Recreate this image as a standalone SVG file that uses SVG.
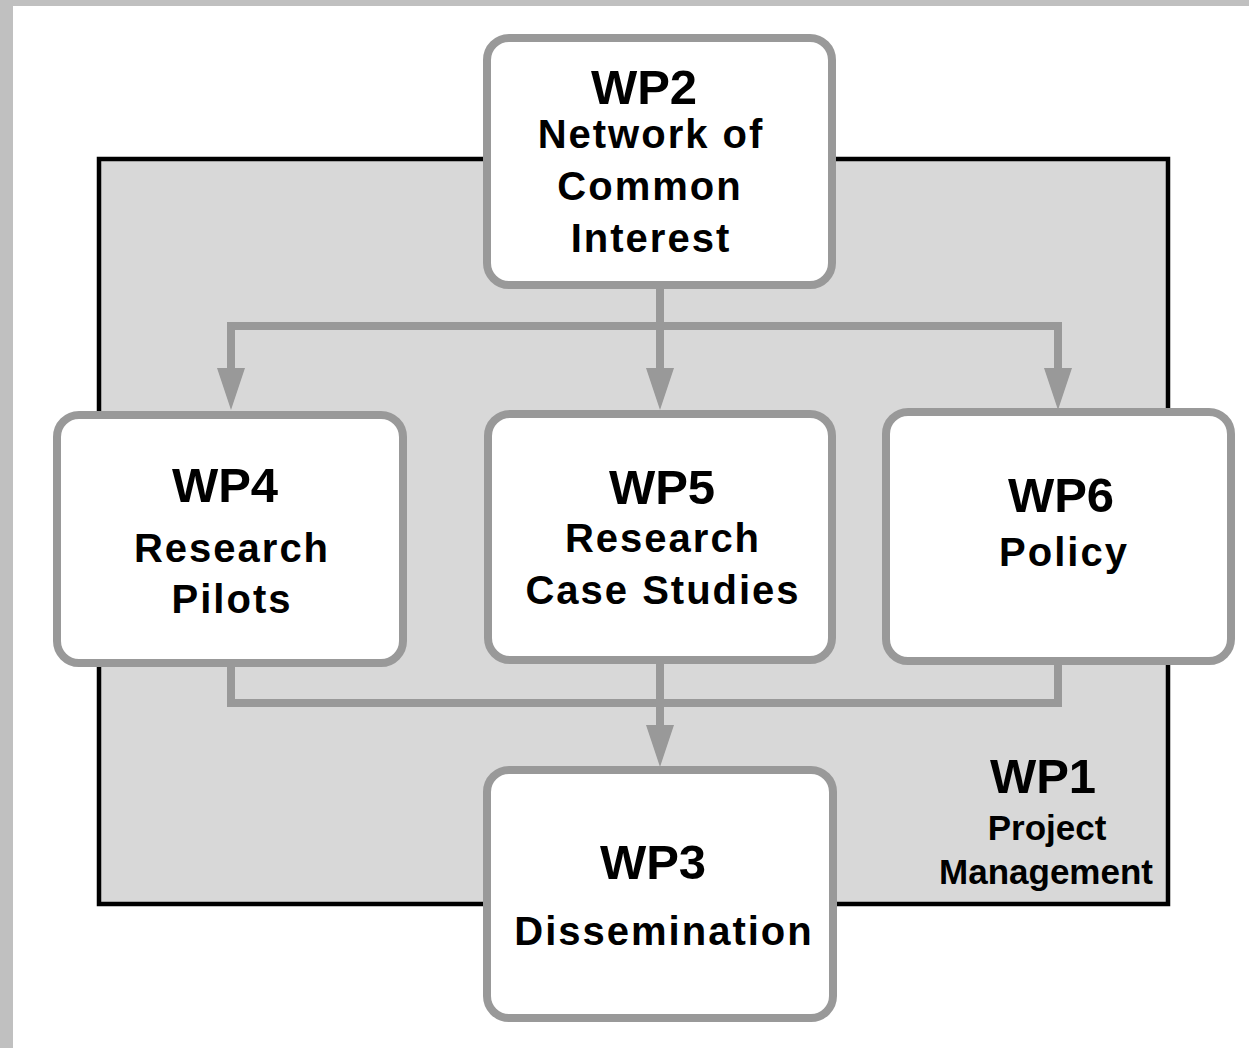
<svg xmlns="http://www.w3.org/2000/svg" width="1249" height="1048" viewBox="0 0 1249 1048">
<style>
.box{fill:#ffffff;stroke:#999999;stroke-width:8}
.con{fill:none;stroke:#999999;stroke-width:8;stroke-linejoin:miter}
text{font-family:"Liberation Sans",Arial,sans-serif;font-weight:bold;fill:#000000;text-anchor:middle}
.wp{font-size:49px}
.sub{font-size:40px;letter-spacing:2px}
.pm{font-size:35px}
</style>
<defs>
<marker id="arr" markerUnits="userSpaceOnUse" markerWidth="42" markerHeight="28" refX="0" refY="14" orient="auto" viewBox="0 0 42 28">
<path d="M0,0 L42,14 L0,28 z" fill="#999999"/>
</marker>
</defs>
<rect x="0" y="0" width="1249" height="1048" fill="#c0c0c0"/>
<rect x="13" y="6" width="1236" height="1042" fill="#ffffff"/>
<g id="wp1">
<rect x="99" y="159" width="1069" height="745" fill="#d8d8d8" stroke="#000000" stroke-width="4.5"/>
<text class="wp" x="1043" y="793">WP1</text>
<text class="pm" x="1047" y="840">Project</text>
<text class="pm" x="1046" y="884">Management</text>
</g>
<g id="connectors">
<path class="con" d="M660,289 V368" marker-end="url(#arr)"/>
<path class="con" d="M660,326 H231 V368" marker-end="url(#arr)"/>
<path class="con" d="M660,326 H1058 V368" marker-end="url(#arr)"/>
<path class="con" d="M231,667 V703 H660"/>
<path class="con" d="M1058,665 V703 H660"/>
<path class="con" d="M660,664 V725" marker-end="url(#arr)"/>
</g>
<g id="wp2">
<rect class="box" x="487" y="38" width="345" height="247" rx="22"/>
<text class="wp" x="644" y="104">WP2</text>
<text class="sub" x="651" y="148">Network of</text>
<text class="sub" x="650" y="200">Common</text>
<text class="sub" x="651" y="252">Interest</text>
</g>
<g id="wp4">
<rect class="box" x="57" y="415" width="346" height="248" rx="22"/>
<text class="wp" x="225" y="502">WP4</text>
<text class="sub" x="232" y="562">Research</text>
<text class="sub" x="232" y="613">Pilots</text>
</g>
<g id="wp5">
<rect class="box" x="488" y="414" width="344" height="246" rx="22"/>
<text class="wp" x="662" y="504">WP5</text>
<text class="sub" x="663" y="552">Research</text>
<text class="sub" x="663" y="604">Case Studies</text>
</g>
<g id="wp6">
<rect class="box" x="886" y="412" width="345" height="249" rx="22"/>
<text class="wp" x="1061" y="512">WP6</text>
<text class="sub" x="1064" y="566">Policy</text>
</g>
<g id="wp3">
<rect class="box" x="487" y="770" width="346" height="248" rx="22"/>
<text class="wp" x="653" y="879">WP3</text>
<text class="sub" x="664" y="945">Dissemination</text>
</g>
</svg>
